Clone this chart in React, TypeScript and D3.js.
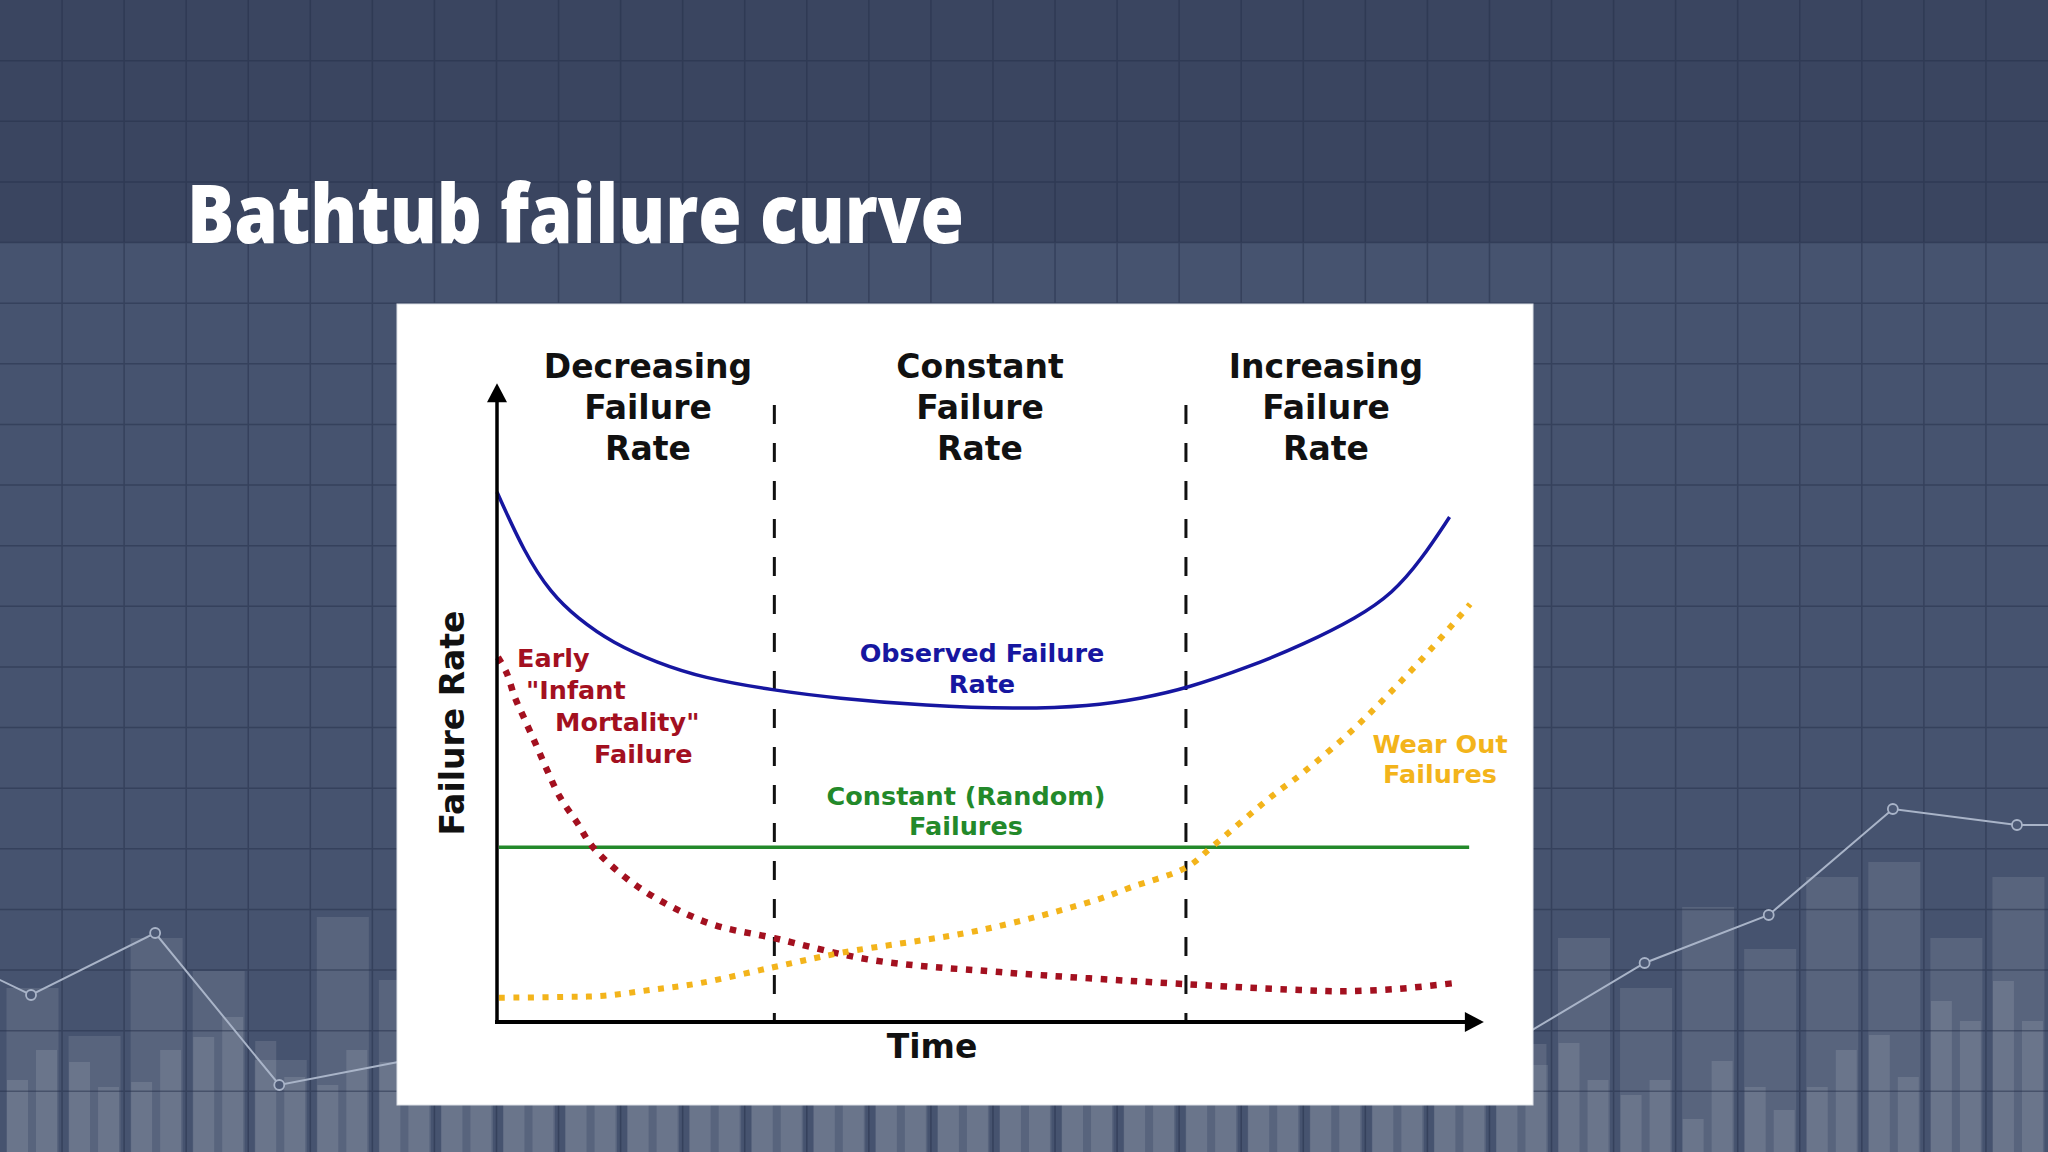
import * as d3 from "d3";

const W = 2048;
const H = 1152;

// ---- bathtub chart data (time and failure rate in 0-100 units) ----
const observedTime = [0, 2.8, 5.5, 8.2, 11.8, 16.4, 20.9, 28.3, 34.6, 43.8, 52.9, 60.5, 65.9, 70.3, 76.8, 82.3, 87.8, 91.4, 94.3, 97.2];
const observedRate = [82.8, 73.3, 67.0, 63.1, 59.2, 56.1, 53.8, 51.8, 50.6, 49.4, 48.9, 49.3, 50.6, 52.1, 55.5, 59.0, 63.2, 67.0, 72.2, 78.9];

const earlyTime = [0.1, 1.0, 1.8, 2.7, 3.9, 5.1, 6.4, 8.2, 9.8, 14.6, 21.5, 28.3, 38.2, 51.3, 70.4, 81.9, 86.4, 92.1, 97.8];
const earlyRate = [57.0, 54.5, 50.8, 47.7, 43.6, 39.4, 35.2, 31.1, 27.3, 20.9, 15.5, 13.1, 9.7, 7.8, 5.9, 5.0, 4.8, 5.2, 6.1];

const wearTime = [0.2, 6.4, 10.9, 15.6, 20.8, 28.3, 35.1, 49.5, 61.2, 64.6, 70.4, 72.9, 79.0, 82.2, 87.0, 91.1, 95.2, 99.3];
const wearRate = [3.8, 3.9, 4.1, 5.0, 6.1, 8.6, 10.8, 14.4, 19.1, 21.0, 24.2, 27.3, 35.2, 38.9, 45.2, 51.4, 58.1, 65.3];

const constantRate = 27.3;
const constantSpan = [0.2, 99.2];
const phaseBounds = [28.3, 70.3];
const phaseTop = 96.4;

const phaseLabels = [
  ["Decreasing", "Failure", "Rate"],
  ["Constant", "Failure", "Rate"],
  ["Increasing", "Failure", "Rate"],
];
const earlyLabel = ["Early", "\"Infant", "Mortality\"", "Failure"];
const observedLabel = ["Observed Failure", "Rate"];
const constantLabel = ["Constant (Random)", "Failures"];
const wearLabel = ["Wear Out", "Failures"];

// ---- decorative background bars / line (height from slide bottom) ----
const bgWide = [164, 116, 214, 181, 92, 235, 172, 152, 192, 132, 212, 162, 142, 202, 172, 122, 192, 152, 182, 112, 162, 202, 142, 172, 87, 214, 164, 245, 203, 275, 290, 214, 275];
const bgNarrowL = [72, 90, 70, 115, 111, 67, 90, 82, 72, 102, 62, 92, 77, 97, 67, 87, 107, 72, 92, 82, 67, 97, 77, 77, 77, 109, 57, 33, 65, 65, 117, 151, 171];
const bgNarrowR = [102, 65, 102, 135, 75, 102, 82, 67, 97, 77, 87, 62, 102, 72, 92, 67, 82, 97, 72, 87, 102, 72, 92, 62, 108, 72, 72, 91, 42, 102, 75, 131, 131];
const bgLine = [217, 157, 219, 67, 91, 132, 162, 112, 152, 177, 122, 142, 162, 115, 189, 237, 343, 327, 327];

export default function App() {
  const x = d3.scaleLinear().domain([0, 100]).range([497, 1477]);
  const y = d3.scaleLinear().domain([0, 100]).range([1022, 382]);

  const curve = (ts: number[], vs: number[], c: d3.CurveFactory) =>
    d3
      .line<number>()
      .x((_, i) => x(ts[i]))
      .y((v) => y(v))
      .curve(c)(vs) as string;

  // background scales
  const colW = W / 33;
  const rowH = H / 19;
  const bgY = d3.scaleLinear().domain([0, H]).range([H, 0]);
  const cols = d3.range(33);
  const bgLinePath = d3
    .line<number>()
    .x((_, i) => (2 * (i - 1) + 0.5) * colW)
    .y((v) => bgY(v))(bgLine) as string;

  const font = "'DejaVu Sans', Verdana, sans-serif";
  const red = "#a3101f";
  const blue = "#1616a0";
  const green = "#23892a";
  const yellow = "#f3b41b";

  const x0 = x(0);
  const y0 = y(0);
  const yTip = y(99.8);
  const xTip = x(100.7);

  return (
    <svg
      width={W}
      height={H}
      style={{ position: "absolute", left: 0, top: 0, display: "block" }}
    >
      {/* slide background */}
      <rect x={0} y={0} width={W} height={H} fill="#46536f" />
      <rect x={0} y={0} width={W} height={rowH * 4} fill="#3a4560" />
      <g>
        {cols.map((c) => (
          <rect
            key={"w" + c}
            x={c * colW + 6.5}
            y={bgY(bgWide[c])}
            width={52}
            height={bgWide[c]}
            fill="#ffffff"
            opacity={0.1}
          />
        ))}
        {cols.map((c) => (
          <rect
            key={"l" + c}
            x={c * colW + 7}
            y={bgY(bgNarrowL[c])}
            width={21}
            height={bgNarrowL[c]}
            fill="#ffffff"
            opacity={0.11}
          />
        ))}
        {cols.map((c) => (
          <rect
            key={"r" + c}
            x={c * colW + 36}
            y={bgY(bgNarrowR[c])}
            width={21}
            height={bgNarrowR[c]}
            fill="#ffffff"
            opacity={0.11}
          />
        ))}
      </g>
      <g stroke="#26304a" strokeWidth={1.5} opacity={0.5}>
        {d3.range(1, 33).map((i) => (
          <line key={"gv" + i} x1={i * colW} x2={i * colW} y1={0} y2={H} />
        ))}
        {d3.range(1, 19).map((i) => (
          <line key={"gh" + i} x1={0} x2={W} y1={i * rowH} y2={i * rowH} />
        ))}
      </g>
      <path d={bgLinePath} fill="none" stroke="#a9b4c8" strokeWidth={2} />
      {bgLine.map((v, i) => (
        <circle
          key={"p" + i}
          cx={(2 * (i - 1) + 0.5) * colW}
          cy={bgY(v)}
          r={5}
          fill="#4c5975"
          stroke="#a9b4c8"
          strokeWidth={1.8}
        />
      ))}

      {/* title */}
      <text
        x={187}
        y={243}
        fill="#ffffff"
        fontFamily="'Open Sans', sans-serif"
        fontWeight={800}
        fontSize={82}
        textLength={777}
        lengthAdjust="spacingAndGlyphs"
      >
        Bathtub failure curve
      </text>

      {/* white panel */}
      <rect x={397} y={304} width={1136} height={801} fill="#ffffff" stroke="#dde1e7" strokeWidth={1} />

      {/* phase dividers */}
      {phaseBounds.map((t) => (
        <line
          key={"d" + t}
          x1={x(t)}
          x2={x(t)}
          y1={y(phaseTop)}
          y2={y0}
          stroke="#111"
          strokeWidth={3}
          strokeDasharray="19 19"
        />
      ))}

      {/* constant failures */}
      <line
        x1={x(constantSpan[0])}
        x2={x(constantSpan[1])}
        y1={y(constantRate)}
        y2={y(constantRate)}
        stroke={green}
        strokeWidth={3.5}
      />
      {/* early failures */}
      <path
        d={curve(earlyTime, earlyRate, d3.curveCatmullRom.alpha(0.5))}
        fill="none"
        stroke={red}
        strokeWidth={6.5}
        strokeDasharray="6.5 8.5"
      />
      {/* wear out */}
      <path
        d={curve(wearTime, wearRate, d3.curveCatmullRom.alpha(0.5))}
        fill="none"
        stroke={yellow}
        strokeWidth={6}
        strokeDasharray="6 8.5"
      />
      {/* observed */}
      <path d={curve(observedTime, observedRate, d3.curveBasis)} fill="none" stroke={blue} strokeWidth={3.5} />

      {/* axes */}
      <line x1={x0} x2={x0} y1={y0 + 2} y2={yTip + 16} stroke="#000" strokeWidth={3.5} />
      <polygon points={`${x0},${yTip} ${x0 - 10},${yTip + 19} ${x0 + 10},${yTip + 19}`} fill="#000" />
      <line x1={x0 - 2} x2={xTip - 16} y1={y0} y2={y0} stroke="#000" strokeWidth={4} />
      <polygon points={`${xTip},${y0} ${xTip - 19},${y0 - 10} ${xTip - 19},${y0 + 10}`} fill="#000" />

      {/* text */}
      <g fontFamily={font} fontWeight="bold" fontSize={33} fill="#111" textAnchor="middle">
        {phaseLabels.map((lines, i) => {
          const cx = [648, 980, 1326][i];
          return lines.map((s, j) => (
            <text key={"h" + i + j} x={cx} y={378 + j * 41}>
              {s}
            </text>
          ));
        })}
        <text x={932} y={1058}>Time</text>
        <text transform="translate(464,723) rotate(-90)">Failure Rate</text>
      </g>

      <g fontFamily={font} fontWeight="bold" fontSize={25.5}>
        {earlyLabel.map((s, j) => (
          <text key={"e" + j} x={[517, 526, 555, 594][j]} y={667 + j * 32} fill={red}>
            {s}
          </text>
        ))}
        {observedLabel.map((s, j) => (
          <text key={"o" + j} x={982} y={662 + j * 31} fill={blue} textAnchor="middle">
            {s}
          </text>
        ))}
        {constantLabel.map((s, j) => (
          <text key={"c" + j} x={966} y={805 + j * 30} fill={green} textAnchor="middle">
            {s}
          </text>
        ))}
        {wearLabel.map((s, j) => (
          <text key={"w" + j} x={1440} y={753 + j * 30} fill={yellow} textAnchor="middle">
            {s}
          </text>
        ))}
      </g>
    </svg>
  );
}
